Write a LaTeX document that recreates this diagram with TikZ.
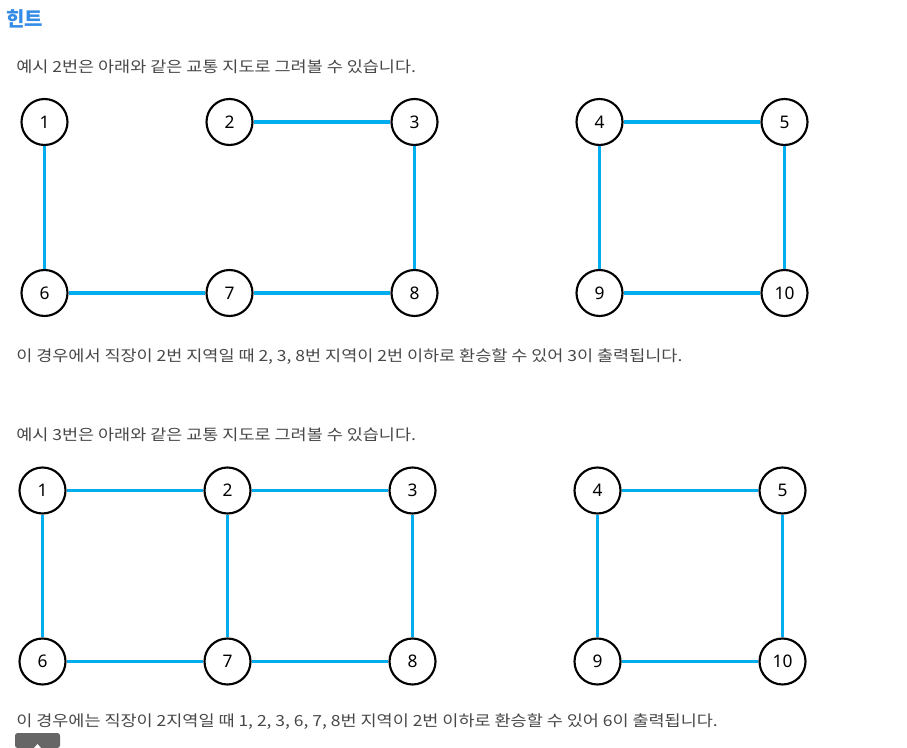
\documentclass[tikz,border=0pt]{standalone}
\usepackage{fontspec}
\setmainfont{Noto Sans CJK KR}
\newfontfamily\bodyfont[FakeStretch=1.14]{Noto Sans CJK KR}
\newfontfamily\numfont{Noto Sans}
\definecolor{edgeblue}{RGB}{0,174,239}
\definecolor{titleblue}{RGB}{52,140,230}
\definecolor{bodygrey}{RGB}{72,72,72}
\definecolor{btngrey}{RGB}{102,102,102}
\tikzset{
  vtx/.style={circle, draw=black, line width=1.6pt, fill=white, minimum size=34.5pt, inner sep=0pt, font=\numfont\fontsize{13}{15}\selectfont},
  edge/.style={draw=edgeblue, line width=2.3pt},
  body/.style={anchor=west, inner sep=0pt, text=bodygrey, font=\bodyfont\fontsize{11.5}{13}\selectfont},
}
\begin{document}
\begin{tikzpicture}[x=0.75pt, y=-0.75pt]
\useasboundingbox (0,0) rectangle (907,748);
\fill[white] (0,0) rectangle (907,748);
\node[anchor=west, inner sep=0pt, text=titleblue, font=\fontsize{15}{17}\selectfont\bfseries] (title) at (6,19) {힌트};
\node[body] (t1) at (16,67) {예시 2번은 아래와 같은 교통 지도로 그려볼 수 있습니다.};
\node[body] (t2) at (16,357) {이 경우에서 직장이 2번 지역일 때 2, 3, 8번 지역이 2번 이하로 환승할 수 있어 3이 출력됩니다.};
\node[body] (t3) at (16,435) {예시 3번은 아래와 같은 교통 지도로 그려볼 수 있습니다.};
\node[body] (t4) at (16,722) {이 경우에는 직장이 2지역일 때 1, 2, 3, 6, 7, 8번 지역이 2번 이하로 환승할 수 있어 6이 출력됩니다.};
% example 2
\begin{scope}
\node[vtx] (a1) at (44.5,122) {1};
\node[vtx] (a2) at (229.5,122) {2};
\node[vtx] (a3) at (414.5,122) {3};
\node[vtx] (a4) at (599.5,122) {4};
\node[vtx] (a5) at (784.5,122) {5};
\node[vtx] (a6) at (44.5,293) {6};
\node[vtx] (a7) at (229.5,293) {7};
\node[vtx] (a8) at (414.5,293) {8};
\node[vtx] (a9) at (599.5,293) {9};
\node[vtx] (a10) at (784.5,293) {10};
\draw[edge] (a1) -- (a6);
\draw[edge] (a2) -- (a3);
\draw[edge] (a3) -- (a8);
\draw[edge] (a6) -- (a7);
\draw[edge] (a7) -- (a8);
\draw[edge] (a4) -- (a5);
\draw[edge] (a4) -- (a9);
\draw[edge] (a5) -- (a10);
\draw[edge] (a9) -- (a10);
\end{scope}
% example 3
\begin{scope}
\node[vtx] (b1) at (42.5,490.5) {1};
\node[vtx] (b2) at (227.5,490.5) {2};
\node[vtx] (b3) at (412.5,490.5) {3};
\node[vtx] (b4) at (597.5,490.5) {4};
\node[vtx] (b5) at (782.5,490.5) {5};
\node[vtx] (b6) at (42.5,661.5) {6};
\node[vtx] (b7) at (227.5,661.5) {7};
\node[vtx] (b8) at (412.5,661.5) {8};
\node[vtx] (b9) at (597.5,661.5) {9};
\node[vtx] (b10) at (782.5,661.5) {10};
\draw[edge] (b1) -- (b2);
\draw[edge] (b2) -- (b3);
\draw[edge] (b1) -- (b6);
\draw[edge] (b2) -- (b7);
\draw[edge] (b3) -- (b8);
\draw[edge] (b6) -- (b7);
\draw[edge] (b7) -- (b8);
\draw[edge] (b4) -- (b5);
\draw[edge] (b4) -- (b9);
\draw[edge] (b5) -- (b10);
\draw[edge] (b9) -- (b10);
\end{scope}
% scroll-to-top button
\fill[btngrey, rounded corners=2pt] (15,748) -- (15,733) -- (60,733) -- (60,748) -- cycle;
\fill[white] (34,748) -- (37.5,744) -- (41,748) -- cycle;
\end{tikzpicture}
\end{document}
